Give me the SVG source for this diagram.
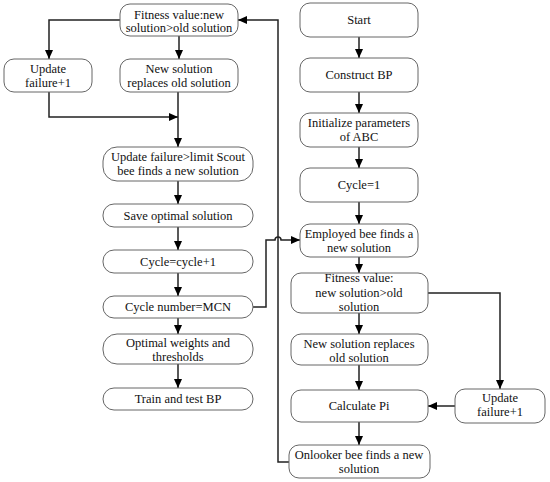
<svg xmlns="http://www.w3.org/2000/svg" width="550" height="482" viewBox="0 0 550 482">
<style>
.n rect{fill:#fff;stroke:#666;stroke-width:1}
.n text{font-family:"Liberation Serif","Times New Roman",serif;font-size:12.5px;fill:#111;text-anchor:middle}
.c path{fill:none;stroke:#222;stroke-width:1.5}
</style>
<defs>
<marker id="a" markerUnits="userSpaceOnUse" markerWidth="9" markerHeight="8" refX="9" refY="4" orient="auto">
<path d="M0,0 L9,4 L0,8 Z" fill="#000"/>
</marker>
</defs>
<rect width="550" height="482" fill="#fff"/>
<g class="c">
<path d="M120,20 H49 V59" marker-end="url(#a)"/>
<path d="M179,36 V59" marker-end="url(#a)"/>
<path d="M49,92 V117 H178" marker-end="url(#a)"/>
<path d="M178,92 V147" marker-end="url(#a)"/>
<path d="M178,181 V204" marker-end="url(#a)"/>
<path d="M178,227 V250" marker-end="url(#a)"/>
<path d="M178,273 V296" marker-end="url(#a)"/>
<path d="M178,318 V334" marker-end="url(#a)"/>
<path d="M178,364 V388" marker-end="url(#a)"/>
<path d="M253,307 H266 V240 H275 A3,3 0 0 1 281,240 H300" marker-end="url(#a)"/>
<path d="M289,462 H278 V20 H238" marker-end="url(#a)"/>
<path d="M359,37 V58" marker-end="url(#a)"/>
<path d="M359,92 V113" marker-end="url(#a)"/>
<path d="M359,147 V168" marker-end="url(#a)"/>
<path d="M359,202 V224" marker-end="url(#a)"/>
<path d="M359,257 V273" marker-end="url(#a)"/>
<path d="M359,313 V334" marker-end="url(#a)"/>
<path d="M359,365 V390" marker-end="url(#a)"/>
<path d="M359,422 V445" marker-end="url(#a)"/>
<path d="M428,293 H500 V389" marker-end="url(#a)"/>
<path d="M455,406 H428" marker-end="url(#a)"/>
</g>
<g id="n_fit_l" class="n"><rect x="120" y="4" width="118" height="32" rx="10"/><text x="179" y="19">Fitness value:new</text><text x="179" y="32">solution&gt;old solution</text></g>
<g id="n_upd_l" class="n"><rect x="4" y="59" width="88" height="33" rx="10"/><text x="48" y="73">Update</text><text x="48" y="87">failure+1</text></g>
<g id="n_new_l" class="n"><rect x="120" y="59" width="118" height="33" rx="10"/><text x="179" y="73">New solution</text><text x="179" y="87">replaces old solution</text></g>
<g id="n_scout" class="n"><rect x="103" y="147" width="150" height="34" rx="14"/><text x="178" y="161">Update failure&gt;limit Scout</text><text x="178" y="175">bee finds a new solution</text></g>
<g id="n_save" class="n"><rect x="103" y="204" width="150" height="23" rx="11"/><text x="178" y="220">Save optimal solution</text></g>
<g id="n_cyc" class="n"><rect x="103" y="250" width="150" height="23" rx="11"/><text x="178" y="266">Cycle=cycle+1</text></g>
<g id="n_mcn" class="n"><rect x="103" y="296" width="150" height="22" rx="11"/><text x="178" y="311">Cycle number=MCN</text></g>
<g id="n_opt" class="n"><rect x="103" y="334" width="150" height="30" rx="14"/><text x="178" y="347">Optimal weights and</text><text x="178" y="361">thresholds</text></g>
<g id="n_train" class="n"><rect x="103" y="388" width="150" height="22" rx="11"/><text x="178" y="403">Train and test BP</text></g>
<g id="n_start" class="n"><rect x="300" y="3" width="118" height="34" rx="10"/><text x="359" y="24">Start</text></g>
<g id="n_bp" class="n"><rect x="300" y="58" width="118" height="34" rx="10"/><text x="359" y="79">Construct BP</text></g>
<g id="n_init" class="n"><rect x="300" y="113" width="118" height="34" rx="10"/><text x="359" y="127">Initialize parameters</text><text x="359" y="141">of ABC</text></g>
<g id="n_cyc1" class="n"><rect x="300" y="168" width="118" height="34" rx="10"/><text x="359" y="189">Cycle=1</text></g>
<g id="n_emp" class="n"><rect x="300" y="224" width="118" height="33" rx="10"/><text x="359" y="238">Employed bee finds a</text><text x="359" y="252">new solution</text></g>
<g id="n_fit_r" class="n"><rect x="291" y="273" width="137" height="40" rx="10"/><text x="359" y="282">Fitness value:</text><text x="359" y="297">new solution&gt;old</text><text x="359" y="311">solution</text></g>
<g id="n_new_r" class="n"><rect x="291" y="334" width="137" height="31" rx="10"/><text x="359" y="348">New solution replaces</text><text x="359" y="362">old solution</text></g>
<g id="n_pi" class="n"><rect x="291" y="390" width="137" height="32" rx="10"/><text x="359" y="410">Calculate Pi</text></g>
<g id="n_upd_r" class="n"><rect x="455" y="389" width="90" height="34" rx="10"/><text x="500" y="402">Update</text><text x="500" y="416">failure+1</text></g>
<g id="n_onl" class="n"><rect x="289" y="445" width="141" height="33" rx="10"/><text x="359" y="459">Onlooker bee finds a new</text><text x="359" y="473">solution</text></g>
</svg>
